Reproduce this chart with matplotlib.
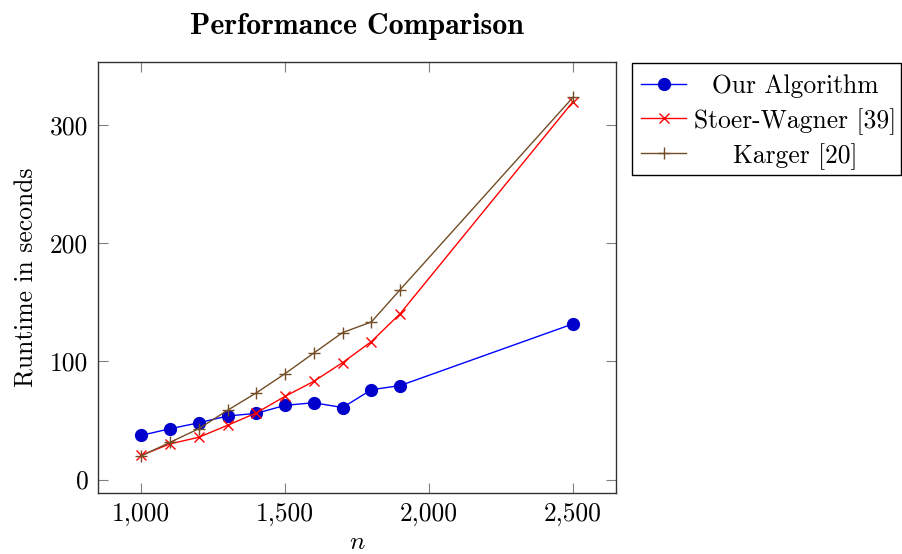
import matplotlib
matplotlib.use('Agg')
import matplotlib.pyplot as plt
from matplotlib.lines import Line2D
from matplotlib.patches import Rectangle
from matplotlib.ticker import FixedLocator, FuncFormatter

# Шрифт у стилі LaTeX (Computer Modern)
plt.rcParams['font.family'] = 'cmr10'
plt.rcParams['mathtext.fontset'] = 'cm'
plt.rcParams['axes.formatter.use_mathtext'] = True

# Дані
n_values = [1000, 1100, 1200, 1300, 1400, 1500, 1600, 1700, 1800, 1900, 2500]
our_algorithm = [37.4, 43.0, 48.0, 53.8, 56.0, 62.8, 65.0, 60.9, 76.0, 79.5, 131.6]
stoer_wagner = [20.5, 30.2, 35.8, 45.9, 56.4, 70.4, 83.1, 98.9, 116.7, 140.3, 319.3]
karger = [20.0, 31.5, 43.0, 58.6, 73.3, 89.6, 107.0, 124.3, 133.3, 160.6, 323.0]
series_labels = ['Our Algorithm', 'Stoer-Wagner [39]', 'Karger [20]']

x_ticks = [1000, 1500, 2000, 2500]
y_ticks = [0, 100, 200, 300]

styles = [
    dict(color='#0000FF', marker='o', markersize=8.5, markerfacecolor='#0000CC',
         markeredgecolor='#0000CC', linewidth=1.0),
    dict(color='#FF0000', marker='x', markersize=6.5, markeredgewidth=1.0, linewidth=1.0),
    dict(color='#734D26', marker='+', markersize=8.5, markeredgewidth=1.0, linewidth=1.0),
]

fig = plt.figure(figsize=(9.02, 5.54), dpi=100)
W, H = 902, 554
ax = fig.add_axes([98 / W, 1 - 493 / H, (616 - 98) / W, (493 - 62) / H])

for values, style in zip([our_algorithm, stoer_wagner, karger], styles):
    ax.plot(n_values, values, **style, zorder=3)

ax.set_xlim(850, 2650)
ax.set_ylim(-11.3, 353)
ax.xaxis.set_major_locator(FixedLocator(x_ticks))
ax.yaxis.set_major_locator(FixedLocator(y_ticks))
ax.xaxis.set_major_formatter(FuncFormatter(lambda v, p: f'{v:,.0f}'))
ax.yaxis.set_major_formatter(FuncFormatter(lambda v, p: f'{v:.0f}'))
ax.tick_params(direction='in', length=7, width=0.8, color='#808080',
               top=True, right=True, labelsize=18.4, pad=7)
for spine in ax.spines.values():
    spine.set_color('#333333')
    spine.set_linewidth(1.0)

ax.set_xlabel('$n$', fontsize=18.4, labelpad=3)
ax.set_ylabel('Runtime in seconds', fontsize=18.4, labelpad=8)
ax.set_title('Performance Comparison', fontsize=21.5, family='cmb10', pad=20)

# Легенда з центрованим текстом (як у pgfplots)
fig.patches.append(Rectangle((632 / W, 1 - 175 / H), (901 - 632) / W, (175 - 63) / H,
                             transform=fig.transFigure, facecolor='white',
                             edgecolor='black', linewidth=1.0))
row_y = [84, 118, 153]
for label, style, y in zip(series_labels, styles, row_y):
    yf = 1 - y / H
    fig.lines.append(Line2D([641 / W, 686 / W], [yf, yf], transform=fig.transFigure,
                            color=style['color'], linewidth=1.0))
    mstyle = {k: v for k, v in style.items() if k not in ('color', 'linewidth')}
    fig.lines.append(Line2D([663.5 / W], [yf], transform=fig.transFigure,
                            color=style['color'], linestyle='none', **mstyle))
    fig.text(795 / W, yf, label, ha='center', va='center_baseline', fontsize=18.4)

plt.savefig('out.png', dpi=100)
plt.close()
